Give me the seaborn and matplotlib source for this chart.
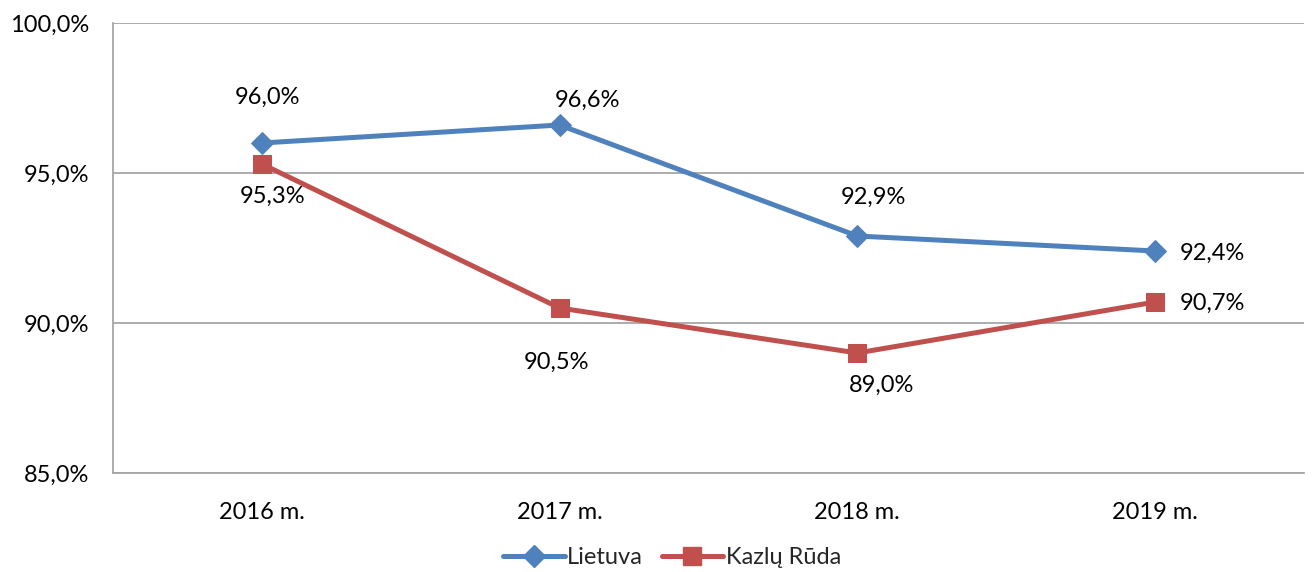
import matplotlib
matplotlib.use("Agg")
import matplotlib.pyplot as plt
import seaborn as sns
import pandas as pd
from matplotlib.lines import Line2D

years = ["2016 m.", "2017 m.", "2018 m.", "2019 m."]
lietuva = [96.0, 96.6, 92.9, 92.4]
kazlu_ruda = [95.3, 90.5, 89.0, 90.7]
series_names = ["Lietuva", "Kazlų Rūda"]
y_ticks = [85, 90, 95, 100]

sns.set_theme(style="white")
plt.rcParams["font.family"] = ["Lato", "DejaVu Sans"]

FS = 17

fig = plt.figure(figsize=(13.12, 5.72), dpi=100)
ax = fig.add_axes([113/1312, (572-473)/572, (1304-113)/1312, (473-23)/572])

blue = "#4F81BD"
red = "#C0504D"
grid = "#A6A6A6"

pos = list(range(len(years)))
df1 = pd.DataFrame({"x": pos, "y": lietuva})
df2 = pd.DataFrame({"x": pos, "y": kazlu_ruda})
sns.lineplot(data=df1, x="x", y="y", ax=ax, color=blue, lw=3.6, marker="D",
             markersize=11, markeredgecolor=blue, zorder=4)
sns.lineplot(data=df2, x="x", y="y", ax=ax, color=red, lw=3.6, marker="s",
             markersize=13.5, markeredgecolor=red, zorder=3)

ax.set_xlim(-0.5, 3.5)
ax.set_ylim(85, 100)
ax.set_yticks(y_ticks)
ax.set_yticklabels([f"{v:.1f}%".replace(".", ",") for v in y_ticks], fontsize=FS)
ax.set_xticks(pos)
ax.set_xticklabels(years, fontsize=FS)
ax.set_xticks([-0.5, 0.5, 1.5, 2.5, 3.5], minor=True)
ax.tick_params(axis="x", which="major", length=0, pad=21)
ax.tick_params(axis="x", which="minor", length=4, width=1.3, color=grid, direction="out")
ax.tick_params(axis="y", length=4, width=1.3, color=grid, direction="out", pad=13)
for lab in ax.get_yticklabels() + ax.get_xticklabels():
    lab.set_color("black")
ax.set_xlabel("")
ax.set_ylabel("")
ax.yaxis.grid(True, color=grid, lw=1.3)
ax.set_axisbelow(True)
for s in ["top", "right"]:
    ax.spines[s].set_visible(False)
for s in ["left", "bottom"]:
    ax.spines[s].set_color(grid)
    ax.spines[s].set_linewidth(1.3)

def fmt(v):
    return f"{v:.1f}%".replace(".", ",")

l_off = [(6, 46, "center"), (28, 25, "center"), (16, 39, "center"), (25, -2, "left")]
k_off = [(11, -32, "center"), (-3, -54, "center"), (24, -32, "center"), (25, -1, "left")]
for i, v in enumerate(lietuva):
    dx, dy, ha = l_off[i]
    ax.annotate(fmt(v), (i, v), xytext=(dx, dy), textcoords="offset pixels",
                ha=ha, va="center", fontsize=FS, color="black")
for i, v in enumerate(kazlu_ruda):
    dx, dy, ha = k_off[i]
    ax.annotate(fmt(v), (i, v), xytext=(dx, dy), textcoords="offset pixels",
                ha=ha, va="center", fontsize=FS, color="black")

handles = [
    Line2D([], [], color=blue, lw=3.6, marker="D", markersize=11),
    Line2D([], [], color=red, lw=3.6, marker="s", markersize=13.5),
]
fig.legend(handles, series_names, loc="center", bbox_to_anchor=(672/1312, 1-558/572),
           ncol=2, frameon=False, fontsize=FS, handlelength=2.6, handletextpad=0.1,
           columnspacing=0.8)

fig.savefig("out.png", dpi=100)
